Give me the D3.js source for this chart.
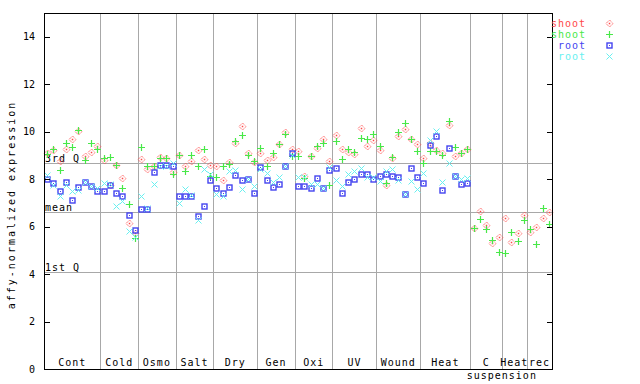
<!DOCTYPE html>
<html><head><meta charset="utf-8">
<script src="https://cdn.jsdelivr.net/npm/d3@7"></script>
<style>
body{margin:0;background:#fff;}
text{font-family:"DejaVu Sans Mono",monospace;font-size:10px;}
</style></head>
<body><svg id="c" width="640" height="384"></svg>
<script>
const groups = ["Cont","Cold","Osmo","Salt","Dry","Gen","Oxi","UV","Wound","Heat","C","Heat","rec"];
const groupSizes = [9,6,6,6,7,6,6,7,7,8,5,4,4];
const yTicks = [0,2,4,6,8,10,12,14];
const statLabels = ["3rd Q","mean","1st Q"];
const statValues = [8.68,6.61,4.08];
const seriesNames = ["shoot","shoot","root","root"];
const seriesColors = ["#ff4848","#48e848","#4444f0","#68f0f0"];

const shootA = [
 9.10,9.21,8.75,9.27,9.70,10.01,8.96,9.14,9.41,
 8.82,7.75,8.58,8.05,6.15,5.73,
 8.85,8.43,8.54,8.94,8.89,8.31,
 9.03,8.56,8.75,9.22,8.85,8.61,
 8.55,7.97,8.71,9.52,10.25,9.10,8.71,
 9.10,8.79,8.93,9.49,9.97,9.27,
 9.17,8.14,8.96,9.31,9.69,8.75,
 9.87,9.27,9.13,9.07,10.15,9.38,9.64,
 9.24,7.76,8.89,9.80,10.11,9.69,9.49,
 8.89,9.52,9.21,9.10,10.30,8.98,9.10,9.27,
 5.93,6.64,6.08,5.33,5.55,
 6.36,5.37,5.72,6.50,
 5.79,5.98,6.36,6.60];
const shootB = [
 9.08,9.27,8.40,9.52,9.35,10.06,8.79,9.52,9.27,
 8.89,8.93,8.58,7.62,6.96,5.51,
 9.35,8.55,8.55,8.90,8.89,8.23,
 9.03,8.34,9.03,8.56,9.27,8.12,
 8.11,8.54,8.65,9.59,9.88,9.03,8.75,
 9.31,8.54,9.10,9.49,9.92,8.96,
 8.96,8.04,8.96,9.41,9.52,7.76,
 9.59,8.85,9.27,9.14,9.73,9.69,9.90,
 9.41,7.83,8.93,9.98,10.37,9.69,9.17,
 8.68,9.17,9.17,9.03,10.46,9.35,9.10,9.27,
 5.93,6.31,5.89,5.44,4.95,
 4.90,5.79,5.41,6.26,
 5.89,5.27,6.78,6.12];
const rootA = [
 8.00,7.83,7.52,7.90,7.13,7.66,7.90,7.69,7.52,
 7.48,7.77,7.41,7.30,6.50,5.84,
 6.74,6.76,8.30,8.58,8.58,8.56,
 7.30,7.30,7.30,6.45,6.86,7.97,
 7.62,7.41,7.66,8.18,7.97,8.00,7.41,
 8.51,7.97,7.66,7.81,8.54,9.10,
 7.72,7.72,7.62,8.04,7.62,8.37,
 8.47,7.41,7.88,8.00,8.23,8.23,8.00,
 8.14,8.23,8.14,8.09,7.38,8.47,8.09,
 7.83,9.45,9.83,7.55,9.31,8.14,7.80,7.83,
 null,null,null,null,null,null,null,null,null,null,null,null,null];
const rootB = [
 8.18,7.76,7.30,7.76,7.48,7.55,7.90,7.72,7.62,
 7.83,7.80,6.88,7.06,5.80,5.55,
 7.30,6.78,7.79,8.55,8.55,8.70,
 6.99,7.58,7.34,6.29,8.42,8.20,
 7.38,7.30,8.33,8.40,7.58,8.00,7.72,
 8.42,8.25,7.90,8.11,8.57,9.00,
 8.11,8.11,7.81,7.81,7.62,8.51,
 7.97,7.72,8.23,8.33,8.47,8.09,8.09,
 7.94,8.33,8.42,7.97,7.38,7.94,7.58,
 8.25,9.66,10.01,7.86,8.68,8.14,8.00,8.05,
 null,null,null,null,null,null,null,null,null,null,null,null,null];

const series = [shootA, shootB, rootA, rootB];
const nSamples = d3.sum(groupSizes);
const L=44, R=552, T=13, B=369;
const x = d3.scaleLinear().domain([0,nSamples]).range([L,R]);
const y = d3.scaleLinear().domain([0,15]).range([B,T]);
const svg = d3.select("#c");

const starts = [];
let acc = 0;
groupSizes.forEach(s=>{starts.push(acc); acc+=s;});

const grid = svg.append("g").attr("shape-rendering","crispEdges");
starts.slice(1).forEach(s=>{
  const xx = Math.round(x(s))+0.5;
  grid.append("line").attr("x1",xx).attr("x2",xx).attr("y1",T).attr("y2",B)
    .attr("stroke","#a8a8a8").attr("stroke-width",1);
});
statValues.forEach((v,k)=>{
  const yy = Math.round(y(v))+0.5;
  grid.append("line").attr("x1",L).attr("x2",R).attr("y1",yy).attr("y2",yy)
    .attr("stroke","#a8a8a8").attr("stroke-width",1);
  svg.append("text").attr("x",L+1).attr("y",yy-2).attr("letter-spacing","1px")
    .attr("fill","#000").text(statLabels[k]);
});

groups.forEach((g,k)=>{
  const cx = x(starts[k] + groupSizes[k]/2);
  svg.append("text").attr("x",cx).attr("y",B-3).attr("text-anchor","middle")
    .attr("letter-spacing","1px").attr("fill","#000").text(g);
});
svg.append("text").attr("x",x(starts[10]+groupSizes[10])).attr("y",B+10).attr("text-anchor","middle")
  .attr("letter-spacing","1px").attr("fill","#000").text("suspension");

function marker(sel, k, color){
  if(k===0){
    sel.append("path").attr("d","M0,-3.5L3.5,0L0,3.5L-3.5,0Z").attr("fill","none")
      .attr("stroke",color).attr("stroke-width",1).attr("stroke-dasharray","1.2,1");
    sel.append("rect").attr("x",-0.75).attr("y",-0.75).attr("width",1.5).attr("height",1.5).attr("fill",color);
  } else if(k===1){
    sel.append("path").attr("d","M-3.5,0H3.5M0,-3.5V3.5").attr("stroke",color).attr("stroke-width",1.2);
  } else if(k===2){
    sel.append("rect").attr("x",-2.5).attr("y",-2.5).attr("width",5).attr("height",5)
      .attr("fill","none").attr("stroke",color).attr("stroke-width",1.4);
    sel.append("rect").attr("x",-0.5).attr("y",-0.5).attr("width",1).attr("height",1).attr("fill",color);
  } else {
    sel.append("path").attr("d","M-3,-3L3,3M-3,3L3,-3").attr("stroke",color).attr("stroke-width",1);
  }
}
series.forEach((arr,k)=>{
  const g = svg.append("g");
  arr.forEach((v,i)=>{
    if(v==null) return;
    const px = Math.round(x(i+0.5))+0.5, py = Math.round(y(v))+0.5;
    const m = g.append("g").attr("transform",`translate(${px},${py})`);
    marker(m,k,seriesColors[k]);
  });
});

const axL = svg.append("g").attr("transform",`translate(${L},0)`)
  .call(d3.axisLeft(y).tickValues(yTicks).tickSize(-6).tickPadding(9).tickFormat(d3.format("d")));
axL.select(".domain").remove();
axL.selectAll("line").attr("stroke","#000").attr("shape-rendering","crispEdges");
axL.selectAll("text").attr("font-family","DejaVu Sans Mono").attr("font-size","10px").attr("fill","#000");
const axR = svg.append("g").attr("transform",`translate(${R},0)`)
  .call(d3.axisRight(y).tickValues(yTicks).tickSize(-5).tickFormat(""));
axR.select(".domain").remove();
axR.selectAll("line").attr("stroke","#000").attr("shape-rendering","crispEdges");

svg.append("rect").attr("x",L+0.5).attr("y",T+0.5).attr("width",R-L).attr("height",B-T)
  .attr("fill","none").attr("stroke","#000").attr("stroke-width",1).attr("shape-rendering","crispEdges");

svg.append("text").attr("transform",`translate(15,${(T+B)/2+14}) rotate(-90)`)
  .attr("text-anchor","middle").attr("letter-spacing","2px").attr("fill","#000")
  .text("affy-normalized expression");

seriesNames.forEach((n,k)=>{
  const yy = 23 + k*11;
  svg.append("text").attr("x",586).attr("y",yy+4).attr("text-anchor","end")
    .attr("letter-spacing","1px").attr("fill",seriesColors[k]).text(n);
  const m = svg.append("g").attr("transform",`translate(609.5,${yy+0.5})`);
  marker(m,k,seriesColors[k]);
});
</script></body></html>
